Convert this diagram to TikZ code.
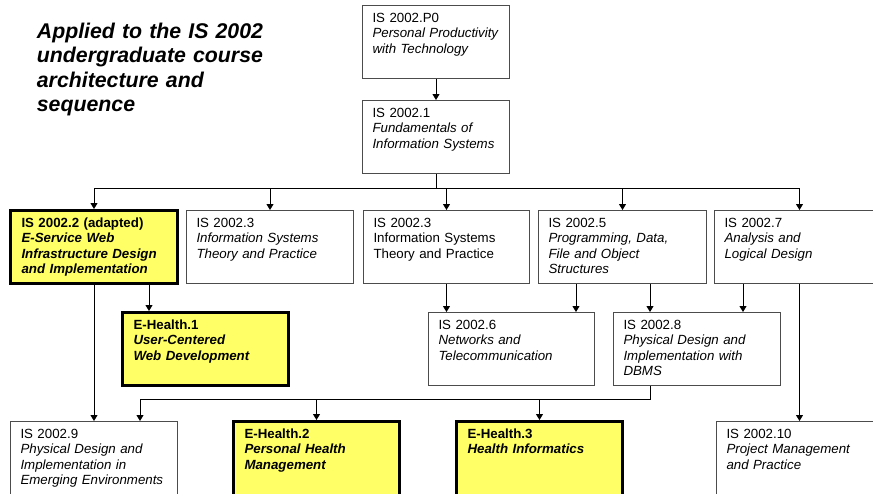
\documentclass[tikz,border=0pt]{standalone}
\usepackage{fontspec}
\setmainfont{Liberation Sans}
\usetikzlibrary{arrows.meta}
\definecolor{ehyellow}{RGB}{255,255,102}
\newcommand{\coursefont}{\fontsize{13.3}{15.3}\selectfont}
\newcommand{\headfont}{\fontsize{21.3}{24.5}\selectfont}

\begin{document}
\begin{tikzpicture}[x=1pt,y=-1pt,
    course/.style={draw=black!70, line width=1pt, anchor=north west,
      inner xsep=10pt, inner ysep=0pt, align=left, text width=#1pt-20pt,
      text height=17pt, text depth=56pt, font=\coursefont},
    ehealth/.style={course=#1, draw=black, line width=3pt, fill=ehyellow,
      inner xsep=11pt, text width=#1pt-22pt, font=\coursefont\bfseries},
    heading/.style={anchor=base west, inner sep=0pt, text width=260pt,
      align=left, font=\headfont\bfseries\itshape},
    link/.style={line width=1pt},
    arr/.style={link, -{Triangle[width=7pt,length=6pt]}}]

  % Frame
  \clip (0,0) rectangle (873,493);

  % Heading
  \node[heading] (title) at (36.7,38) {Applied to the IS 2002\\undergraduate course\\architecture and\\sequence};

  % Top courses
  \node[course=147] (p0) at (362,5) {IS 2002.P0\\\textit{Personal Productivity}\\\textit{with Technology}};
  \node[course=147] (c1) at (362,100) {IS 2002.1\\\textit{Fundamentals of}\\\textit{Information Systems}};

  % Second row
  \node[ehealth=167] (c2) at (9,209) {IS 2002.2 (adapted)\\\textit{E-Service Web}\\\textit{Infrastructure Design}\\\textit{and Implementation}};
  \node[course=167] (c3) at (186,210) {IS 2002.3\\\textit{Information Systems}\\\textit{Theory and Practice}};
  \node[course=166] (c3b) at (363,210) {IS 2002.3\\Information Systems\\Theory and Practice};
  \node[course=168] (c5) at (538,210) {IS 2002.5\\\textit{Programming, Data,}\\\textit{File and Object}\\\textit{Structures}};
  \node[course=170] (c7) at (714,210) {IS 2002.7\\\textit{Analysis and}\\\textit{Logical Design}};

  % Third row
  \node[ehealth=166] (eh1) at (121,311) {E-Health.1\\\textit{User-Centered}\\\textit{Web Development}};
  \node[course=166] (c6) at (428,312) {IS 2002.6\\\textit{Networks and}\\\textit{Telecommunication}};
  \node[course=167] (c8) at (613,312) {IS 2002.8\\\textit{Physical Design and}\\\textit{Implementation with}\\\textit{DBMS}};

  % Fourth row
  \node[course=167, text depth=80pt] (c9) at (10,421) {IS 2002.9\\\textit{Physical Design and}\\\textit{Implementation in}\\\textit{Emerging Environments}};
  \node[ehealth=166, text depth=80pt] (eh2) at (232,420) {E-Health.2\\\textit{Personal Health}\\\textit{Management}};
  \node[ehealth=166, text depth=80pt] (eh3) at (455,420) {E-Health.3\\\textit{Health Informatics}};
  \node[course=166, text depth=80pt] (c10) at (716,421) {IS 2002.10\\\textit{Project Management}\\\textit{and Practice}};

  % Upper connectors
  \draw[arr] (p0) -- (c1);
  \coordinate (bus) at (0,188);
  \draw[link] (c1.south) -- (c1.south |- bus);
  \draw[link] (c2.north |- bus) -- (c7.north |- bus);
  \foreach \c in {c2,c3,c3b,c5,c7}
    \draw[arr] (\c.north |- bus) -- (\c.north);

  % Middle connectors
  \coordinate (eh1in) at ([xshift=28pt]eh1.north west);
  \coordinate (c5l) at ([xshift=38pt]c5.south west);
  \coordinate (c5r) at ([xshift=112pt]c5.south west);
  \coordinate (c7l) at ([xshift=29pt]c7.south west);
  \draw[arr] (c2.south) -- (c2.south |- c9.north);
  \draw[arr] (eh1in |- c2.south) -- (eh1in);
  \draw[arr] (c3b.south) -- (c3b.south |- c6.north);
  \draw[arr] (c5l) -- (c5l |- c6.north);
  \draw[arr] (c5r) -- (c5r |- c8.north);
  \draw[arr] (c7l) -- (c7l |- c8.north);
  \draw[arr] (c7.south) -- (c7.south |- c10.north);

  % Lower connectors
  \coordinate (bus2) at (0,399);
  \coordinate (c8out) at ([xshift=37pt]c8.south west);
  \coordinate (c9in) at ([xshift=130pt]c9.north west);
  \draw[link] (c8out) |- (c9in |- bus2);
  \draw[arr] (c9in |- bus2) -- (c9in);
  \draw[arr] (eh2.north |- bus2) -- (eh2.north);
  \draw[arr] (eh3.north |- bus2) -- (eh3.north);
\end{tikzpicture}
\end{document}
